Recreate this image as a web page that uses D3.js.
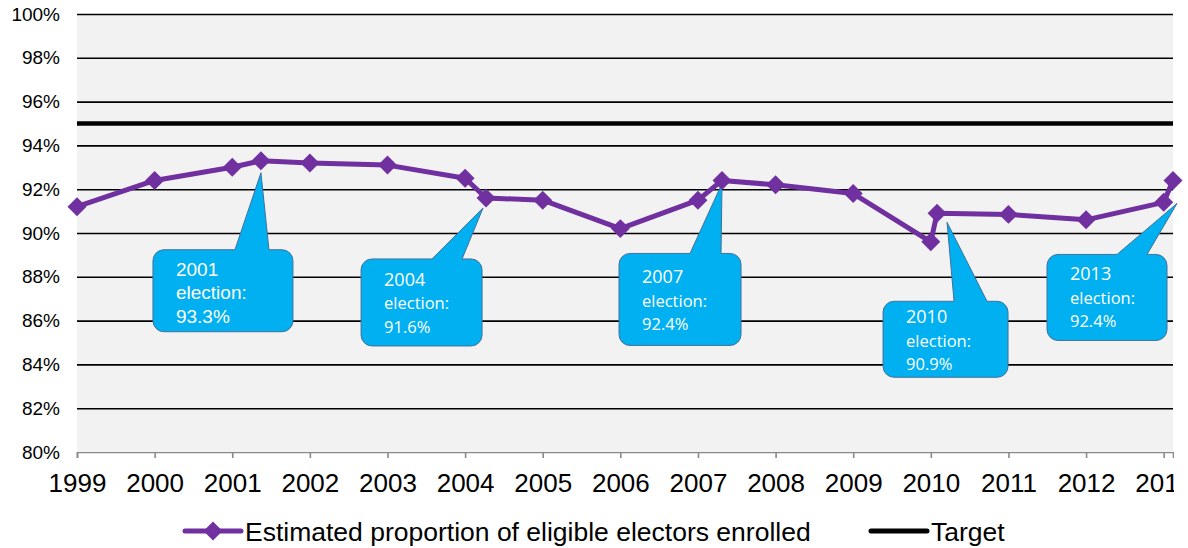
<!DOCTYPE html>
<html>
<head>
<meta charset="utf-8">
<script src="https://cdn.jsdelivr.net/npm/d3@7"></script>
<style>
  body { margin: 0; background: #fff; }
  svg { display: block; }
</style>
</head>
<body>
<svg id="chart" width="1188" height="548"></svg>
<script>
// data
const years = [1999, 2000, 2001, 2001.37, 2002, 2003, 2004, 2004.27, 2005, 2006,
  2007, 2007.31, 2008, 2009, 2010, 2010.08, 2011, 2012, 2013, 2013.12]
const enrolled = [91.2, 92.4, 93.0, 93.3, 93.2, 93.1, 92.5, 91.6, 91.5, 90.2,
  91.5, 92.4, 92.2, 91.8, 89.6, 90.9, 90.85, 90.6, 91.4, 92.4]
const target = 95
const yTicks = [80, 82, 84, 86, 88, 90, 92, 94, 96, 98, 100]
const xTicks = [1999, 2000, 2001, 2002, 2003, 2004, 2005, 2006, 2007, 2008, 2009, 2010, 2011, 2012, 2013]
const electionYears = [2001.37, 2004.27, 2007.31, 2010.08, 2013.12]
const electionLabels = [
  ['2001', 'election:', '93.3%'],
  ['2004', 'election:', '91.6%'],
  ['2007', 'election:', '92.4%'],
  ['2010', 'election:', '90.9%'],
  ['2013', 'election:', '92.4%'],
]
const seriesNames = ['Estimated proportion of eligible electors enrolled', 'Target']

// callout layout (pixels, relative to the data point)
const calloutLayout = [
  { tip: [0, 12], box: [-108, 89, 140, 82], wedge: [82, 116], text: 26, font: 'arial' },
  { tip: [-3, 10], box: [-125, 61, 121, 87], wedge: [71, 101], text: 27 },
  { tip: [0, 3], box: [-103, 73, 122, 92], wedge: [71, 102], text: 30 },
  { tip: [10, 9], box: [-54, 88, 125, 76], wedge: [71, 104], text: 22 },
  { tip: [4, 23], box: [-126, 74, 120, 86], wedge: [70, 100], text: 26 },
]

const margin = { top: 14, left: 77, bottom: 96 }
const plotRight = 1173
const plotBottom = 548 - margin.bottom

const purple = '#7030A0'
const points = years.map((y, i) => ({ year: y, value: enrolled[i] }))

const x = d3.scaleLinear()
  .domain(d3.extent(years))
  .range([margin.left, plotRight])

const y = d3.scaleLinear()
  .domain([80, 100])
  .range([plotBottom, margin.top])

const svg = d3.select('#chart')

// the tick labels get cut at the right edge of the chart area
svg.append('defs')
  .append('clipPath')
  .attr('id', 'label-clip')
  .append('rect')
  .attr('x', 0)
  .attr('y', 0)
  .attr('width', plotRight + 1)
  .attr('height', 548)

// plot background
svg.append('rect')
  .attr('x', x.range()[0])
  .attr('y', y(100))
  .attr('width', x.range()[1] - x.range()[0])
  .attr('height', y(80) - y(100))
  .attr('fill', '#f2f2f2')

// y axis with gridlines
const yAxis = svg.append('g')
  .attr('transform', `translate(${margin.left},0)`)
  .call(d3.axisLeft(y)
    .tickValues(yTicks)
    .tickSize(-(plotRight - margin.left))
    .tickPadding(17)
    .tickFormat((d) => d + '%'))
yAxis.select('.domain').remove()
yAxis.selectAll('.tick line')
  .attr('stroke', '#000')
  .attr('stroke-width', 1.6)
  .filter((d) => d === 80).remove()
yAxis.selectAll('.tick text')
  .attr('font-family', 'Liberation Sans, Arial, sans-serif')
  .attr('font-size', 19)
  .attr('fill', '#000')

// target line
svg.append('line')
  .attr('x1', x.range()[0])
  .attr('x2', x.range()[1])
  .attr('y1', y(target))
  .attr('y2', y(target))
  .attr('stroke', '#000')
  .attr('stroke-width', 4.5)

// x axis
const xAxis = svg.append('g')
  .attr('clip-path', 'url(#label-clip)')
  .attr('transform', `translate(0,${plotBottom})`)
  .call(d3.axisBottom(x)
    .tickValues(xTicks)
    .tickSizeOuter(0)
    .tickSize(6)
    .tickPadding(16)
    .tickFormat(d3.format('d')))
xAxis.select('.domain')
  .attr('stroke', '#898989')
  .attr('stroke-width', 1.6)
xAxis.selectAll('.tick line')
  .attr('stroke', '#898989')
  .attr('stroke-width', 1.6)
xAxis.selectAll('.tick text')
  .attr('font-family', 'Liberation Sans, Arial, sans-serif')
  .attr('font-size', 26)
  .attr('fill', '#000')

// election callouts
function calloutPath(px, py, c) {
  const [bx, by, bw, bh] = c.box
  const x0 = px + bx, y0 = py + by, x1 = x0 + bw, y1 = y0 + bh
  const r = 11
  const tx = px + c.tip[0], ty = py + c.tip[1]
  const p = d3.path()
  p.moveTo(x0 + r, y0)
  p.lineTo(x0 + c.wedge[0], y0)
  p.lineTo(tx, ty)
  p.lineTo(x0 + c.wedge[1], y0)
  p.lineTo(x1 - r, y0)
  p.arcTo(x1, y0, x1, y0 + r, r)
  p.lineTo(x1, y1 - r)
  p.arcTo(x1, y1, x1 - r, y1, r)
  p.lineTo(x0 + r, y1)
  p.arcTo(x0, y1, x0, y1 - r, r)
  p.lineTo(x0, y0 + r)
  p.arcTo(x0, y0, x0 + r, y0, r)
  p.closePath()
  return p.toString()
}

const callouts = svg.append('g')
  .selectAll('g')
  .data(electionYears.map((yr, i) => {
    const pt = points.find((d) => d.year === yr)
    return { px: x(pt.year), py: y(pt.value), lines: electionLabels[i], layout: calloutLayout[i] }
  }))
  .join('g')

callouts.append('path')
  .attr('d', (d) => calloutPath(d.px, d.py, d.layout))
  .attr('fill', '#00b0f0')
  .attr('stroke', '#41719c')
  .attr('stroke-width', 1)

callouts.each(function (d) {
  const g = d3.select(this)
  const isArial = d.layout.font === 'arial'
  const left = d.px + d.layout.box[0] + 23
  const top = d.py + d.layout.box[1]
  d.lines.forEach((line, i) => {
    g.append('text')
      .attr('x', left)
      .attr('y', top + d.layout.text + i * 23.5)
      .attr('font-family', isArial ? 'Liberation Sans, Arial, sans-serif' : 'Open Sans, sans-serif')
      .attr('font-size', isArial ? 19 : (i === 0 ? 18 : 16.5))
      .attr('fill', '#fff')
      .text(line)
  })
})

// series line and markers
const line = d3.line()
  .x((d) => x(d.year))
  .y((d) => y(d.value))

svg.append('path')
  .datum(points)
  .attr('d', line)
  .attr('fill', 'none')
  .attr('stroke', purple)
  .attr('stroke-width', 5)
  .attr('stroke-linejoin', 'round')

const diamond = d3.symbol(d3.symbolSquare, 180)

svg.append('g')
  .selectAll('path')
  .data(points)
  .join('path')
  .attr('d', diamond)
  .attr('transform', (d) => `translate(${x(d.year)},${y(d.value)}) rotate(45)`)
  .attr('fill', purple)

// legend
const legend = svg.append('g')
  .attr('font-family', 'Liberation Sans, Arial, sans-serif')
  .attr('font-size', 26.5)
const legendY = 531
const legendItems = [
  { name: seriesNames[0], x: 185, color: purple, width: 5, marker: true },
  { name: seriesNames[1], x: 871, color: '#000', width: 5, marker: false },
]
const item = legend.selectAll('g')
  .data(legendItems)
  .join('g')
  .attr('transform', (d) => `translate(${d.x},${legendY})`)
item.append('line')
  .attr('x1', 0)
  .attr('x2', 56)
  .attr('stroke', (d) => d.color)
  .attr('stroke-width', (d) => d.width)
  .attr('stroke-linecap', 'round')
item.filter((d) => d.marker)
  .append('path')
  .attr('d', diamond)
  .attr('transform', 'translate(28,0) rotate(45)')
  .attr('fill', purple)
item.append('text')
  .attr('x', 60)
  .attr('y', 9.5)
  .attr('fill', '#000')
  .text((d) => d.name)
</script>
</body>
</html>
